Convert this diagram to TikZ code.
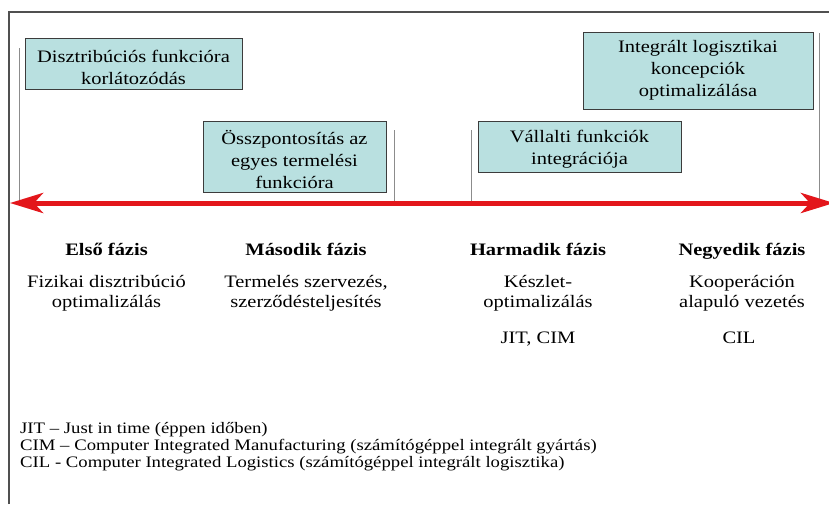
\documentclass[tikz,border=0pt]{standalone}
\usepackage{fontspec}
\setmainfont[FakeStretch=1.17]{Liberation Serif}
\usetikzlibrary{arrows.meta}
\definecolor{boxfill}{HTML}{B9E0E0}
\definecolor{boxline}{HTML}{3C3C3C}
\definecolor{tickgray}{HTML}{8C8C8C}
\definecolor{framegray}{HTML}{505050}
\definecolor{arrowred}{HTML}{E3161B}
\tikzset{
  box/.style={draw=boxline, line width=0.8pt, fill=boxfill, inner sep=0pt, rectangle},
  btext/.style={font=\fontsize{17.5}{22}\selectfont, align=center, inner sep=0pt},
  tickline/.style={draw=tickgray, line width=1pt},
  framel/.style={draw=framegray, line width=1.3pt},
  phasehead/.style={font=\fontsize{17.5}{20}\selectfont\bfseries, anchor=base, inner sep=0pt},
  phasedesc/.style={font=\fontsize{17.5}{20}\selectfont, anchor=base, inner sep=0pt},
  legendtxt/.style={font=\fontsize{16}{17}\selectfont, anchor=base west, inner sep=0pt},
  timeline/.style={draw=arrowred, line width=5pt,
    {Stealth[length=33pt,width=20pt,inset=9pt]}-{Stealth[length=33pt,width=20pt,inset=9pt]}}
}
\begin{document}
\begin{tikzpicture}[x=1pt,y=-1pt]
\useasboundingbox[fill=white] (0,0) rectangle (829,504);
% frame
\coordinate (fbl) at (9,504);
\coordinate (ftr) at (829,12);
\draw[framel] (fbl) |- (ftr);
% tick lines
\coordinate (v1t) at (19,48);   \coordinate (v1b) at (19,203);
\coordinate (v2t) at (394,130); \coordinate (v2b) at (394,203);
\coordinate (v3t) at (471,130); \coordinate (v3b) at (471,203);
\coordinate (v4t) at (819,33);  \coordinate (v4b) at (819,203);
\draw[tickline] (v1t) -- (v1b);
\draw[tickline] (v2t) -- (v2b);
\draw[tickline] (v3t) -- (v3b);
\draw[tickline] (v4t) -- (v4b);
% boxes
\node[box, minimum width=217pt, minimum height=51pt] (b1) at (133.5,63.5) {};
\node[btext] (t1) at (133.5,67.5) {Disztribúciós funkcióra\\korlátozódás};
\node[box, minimum width=183pt, minimum height=71pt] (b2) at (294.5,156.5) {};
\node[btext] (t2) at (294.5,159) {Összpontosítás az\\egyes termelési\\funkcióra};
\node[box, minimum width=230pt, minimum height=77pt] (b3) at (698,70.5) {};
\node[btext] (t3) at (698,70.5) {Integrált logisztikai\\koncepciók\\optimalizálása};
\node[box, minimum width=203pt, minimum height=51pt] (b4) at (579.5,146.5) {};
\node[btext] (t4) at (579.5,149) {Vállalti funkciók\\integrációja};
% timeline arrow
\coordinate (aL) at (10,203);
\coordinate (aR) at (834,203);
\draw[timeline] (aL) -- (aR);
% phases
\node[phasehead] (h1) at (106.5,255) {Első fázis};
\node[phasehead] (h2) at (306,255) {Második fázis};
\node[phasehead] (h3) at (538,255) {Harmadik fázis};
\node[phasehead] (h4) at (742,255) {Negyedik fázis};
\node[phasedesc] (d1a) at (106.5,287) {Fizikai disztribúció};
\node[phasedesc] (d1b) at (106.5,307) {optimalizálás};
\node[phasedesc] (d2a) at (306,287) {Termelés szervezés,};
\node[phasedesc] (d2b) at (306,307) {szerződésteljesítés};
\node[phasedesc] (d3a) at (538,287) {Készlet-};
\node[phasedesc] (d3b) at (538,307) {optimalizálás};
\node[phasedesc] (d4a) at (742,287) {Kooperáción};
\node[phasedesc] (d4b) at (742,307) {alapuló vezetés};
\node[phasedesc] (d3c) at (538,343) {JIT, CIM};
\node[phasedesc] (d4c) at (739,343) {CIL};
% legend
\node[legendtxt] (l1) at (20,433) {JIT – Just in time (éppen időben)};
\node[legendtxt] (l2) at (20,450) {CIM – Computer Integrated Manufacturing (számítógéppel integrált gyártás)};
\node[legendtxt] (l3) at (20,467) {CIL - Computer Integrated Logistics (számítógéppel integrált logisztika)};
\end{tikzpicture}
\end{document}
